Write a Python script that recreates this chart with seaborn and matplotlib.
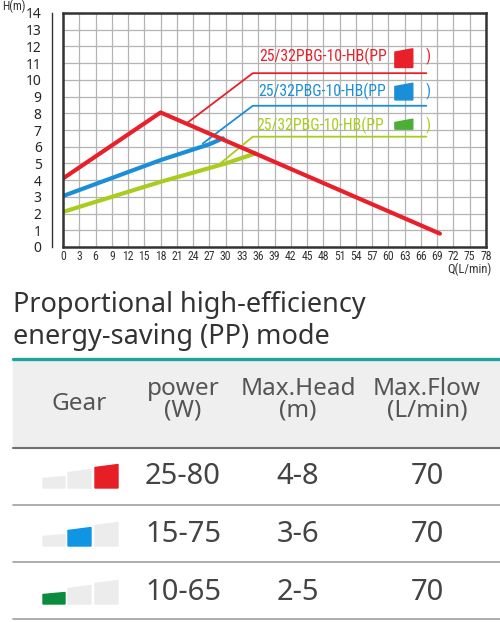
import matplotlib
matplotlib.use("Agg")
import matplotlib.pyplot as plt
from matplotlib import font_manager
from matplotlib.patches import Polygon, Rectangle
import seaborn as sns

# pump curves, Q (L/min) vs H (m)
red_q = [0, 18, 69.5]
red_h = [4.1, 8.05, 0.8]
red_max_q = [22.8, 35, 67]
red_max_h = [7.4, 10.4, 10.4]

blue_q = [0, 18, 27, 29.5]
blue_h = [3.05, 5.2, 6.15, 6.5]
blue_max_q = [25.8, 35, 67]
blue_max_h = [6.2, 8.45, 8.45]

green_q = [0, 18, 30, 35.5]
green_h = [2.1, 3.9, 5.0, 5.6]
green_max_q = [29, 35, 67]
green_max_h = [5.0, 6.6, 6.6]

model_label = "25/32PBG-10-HB(PP"
label_pos = [(36.2, 11.4), (36.0, 9.3), (35.7, 7.3)]

x_ticks = list(range(0, 79, 3))
y_ticks = list(range(0, 15))

# table
title_lines = ["Proportional high-efficiency", "energy-saving (PP) mode"]
headers = ["Gear", ("power", "(W)"), ("Max.Head", "(m)"), ("Max.Flow", "(L/min)")]
power = ["25-80", "15-75", "10-65"]
max_head = ["4-8", "3-6", "2-5"]
max_flow = ["70", "70", "70"]
gear_level = [3, 2, 1]

RED = "#e8202a"
BLUE = "#1a8fd8"
GREEN = "#a9cc1f"
gear_colors = {3: "#e61e26", 2: "#0f95e2", 1: "#0a8b3e"}

sns.set_style("white")
names = {f.name for f in font_manager.fontManager.ttflist}
narrow = "Roboto Condensed" if "Roboto Condensed" in names else "Liberation Sans"
plt.rcParams["font.family"] = ["Noto Sans", "DejaVu Sans"]

fig = plt.figure(figsize=(5, 6.22), dpi=100)

# overlay in pixel coordinates for the table part
tab = fig.add_axes([0, 0, 1, 1])
tab.set_xlim(0, 500)
tab.set_ylim(622, 0)
tab.axis("off")

ax = fig.add_axes([63 / 500, (622 - 247) / 622, (486 - 63) / 500, (247 - 13) / 622])

sns.lineplot(x=red_max_q, y=red_max_h, ax=ax, color=RED, linewidth=1.3, sort=False, zorder=3)
sns.lineplot(x=blue_max_q, y=blue_max_h, ax=ax, color=BLUE, linewidth=1.3, sort=False, zorder=3)
sns.lineplot(x=green_max_q, y=green_max_h, ax=ax, color=GREEN, linewidth=1.3, sort=False, zorder=3)
sns.lineplot(x=green_q, y=green_h, ax=ax, color=GREEN, linewidth=3, sort=False, zorder=4)
sns.lineplot(x=blue_q, y=blue_h, ax=ax, color=BLUE, linewidth=3, sort=False, zorder=4)
sns.lineplot(x=red_q, y=red_h, ax=ax, color=RED, linewidth=3, sort=False, zorder=5)

ax.set_xlim(0, 78)
ax.set_ylim(0, 14)
ax.set_xticks(x_ticks)
ax.set_yticks(y_ticks)
ax.set_xticklabels([str(v) for v in x_ticks], fontfamily=narrow, fontsize=8.5, color="#333333")
ax.set_yticklabels([str(v) for v in y_ticks], fontfamily=narrow, fontsize=9.5, color="#333333")
ax.grid(True, color="#b4b4b4", linewidth=0.9)
ax.set_axisbelow(True)
for s in ["top", "right", "bottom"]:
    ax.spines[s].set_color("#333333")
    ax.spines[s].set_linewidth(1.8)
# y spine sits ~11 px left of the frame
ax.spines["left"].set_position(("outward", 8))
ax.spines["left"].set_color("#333333")
ax.spines["left"].set_linewidth(1.0)
ax.axvline(0, color="#333333", linewidth=1.8, clip_on=False, zorder=6)
ax.tick_params(axis="y", length=6.5, width=1, color="#333333", pad=0.8)
ax.tick_params(axis="x", length=0, pad=2.5)

# in-chart legend labels
series_colors = [RED, BLUE, GREEN]
icon_colors = [RED, BLUE, "#4cae37"]
icon_shapes = [(-0.66, 0.26, 0.46), (-0.5, 0.3, 0.5), (-0.25, 0.15, 0.35)]
lab_size = 11.3 if narrow != "Liberation Sans" else 9.6
for (lx, ly), c, ic, (b, tl, tr) in zip(label_pos, series_colors, icon_colors, icon_shapes):
    ax.text(lx, ly, model_label, color=c, fontfamily=narrow, fontsize=lab_size, va="center", zorder=7)
    ax.add_patch(Polygon([(61.2, ly + b), (64.5, ly + b), (64.5, ly + tr), (61.2, ly + tl)],
                         closed=True, color=ic, zorder=7))
    ax.text(66.8, ly, ")", color=c, fontfamily=narrow, fontsize=lab_size, va="center", zorder=7)

fig.text(2 / 500, 1 - 6 / 622, "H(m)", fontfamily=narrow, fontsize=8.5,
         color="#333333", ha="left", va="center")
fig.text(492 / 500, 1 - 269 / 622, "Q(L/min)", fontfamily=narrow, fontsize=9,
         color="#333333", ha="right", va="center")

# title
tab.text(13, 312, title_lines[0], fontsize=19.5, color="#333333", ha="left", va="baseline")
tab.text(13, 344, title_lines[1], fontsize=19.5, color="#333333", ha="left", va="baseline")

# table frame
tab.add_patch(Rectangle((13, 360), 487, 88, color="#efefef", zorder=1))
tab.plot([13, 500], [359, 359], color="#1ea49b", linewidth=2.4, zorder=2)
tab.plot([13, 500], [448, 448], color="#707070", linewidth=1.5, zorder=2)
for yl in [505, 562, 619]:
    tab.plot([13, 500], [yl, yl], color="#a0a0a0", linewidth=1.2, zorder=2)

col_x = [79, 183, 298, 427]
head_col = "#555555"
tab.text(col_x[0], 404, headers[0], fontsize=17.5, color=head_col, ha="center", va="center", zorder=3)
for cx, (l1, l2) in zip(col_x[1:], headers[1:]):
    tab.text(cx, 389, l1, fontsize=17.5, color=head_col, ha="center", va="center", zorder=3)
    tab.text(cx, 411, l2, fontsize=17.5, color=head_col, ha="center", va="center", zorder=3)

row_y = [477, 535, 593]
val_col = "#444444"
for ry, p, h, f, lvl in zip(row_y, power, max_head, max_flow, gear_level):
    tab.text(col_x[1], ry, p, fontsize=21, color=val_col, ha="center", va="center", zorder=3)
    tab.text(col_x[2], ry, h, fontsize=21, color=val_col, ha="center", va="center", zorder=3)
    tab.text(col_x[3], ry, f, fontsize=21, color=val_col, ha="center", va="center", zorder=3)
    # gear icon: three rising bars
    bottom = ry + 11
    bars = [(43, 65, 9.5, 11.5), (68, 91, 15.5, 18.5), (95, 118, 20.5, 23.5)]
    for i, (x0, x1, hl, hr) in enumerate(bars, start=1):
        col = gear_colors[lvl] if i == lvl else "#ececec"
        tab.add_patch(Polygon([(x0, bottom), (x1, bottom), (x1, bottom - hr), (x0, bottom - hl)],
                              closed=True, color=col, zorder=3))

fig.savefig("out.png", dpi=100)
